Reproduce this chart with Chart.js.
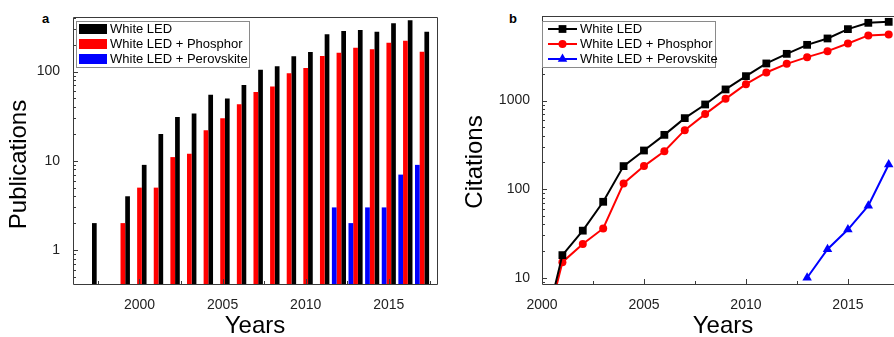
<!DOCTYPE html>
<html>
<head>
<meta charset="utf-8">
<script src="https://cdn.jsdelivr.net/npm/chart.js@4.4.1/dist/chart.umd.min.js"></script>
<style>
  html, body { margin: 0; padding: 0; background: #fff; overflow: hidden; }
  body { width: 894px; height: 337px; position: relative; font-family: "Liberation Sans", Arial, sans-serif; }
  .panel { position: absolute; top: 0; height: 337px; }
  #boxA { left: 0; width: 447px; }
  #boxB { left: 440px; width: 470px; }
  .tag { position: absolute; top: 12px; font-weight: bold; font-size: 13px; line-height: 13px; }
</style>
</head>
<body>
<div class="tag" style="left:42px">a</div>
<div class="tag" style="left:509px">b</div>
<div class="panel" id="boxA"><canvas id="pubChart"></canvas></div>
<div class="panel" id="boxB"><canvas id="citChart"></canvas></div>
<script>
// panel a - publications per year
const pubYears = [1997, 1998, 1999, 2000, 2001, 2002, 2003, 2004, 2005, 2006, 2007,
                  2008, 2009, 2010, 2011, 2012, 2013, 2014, 2015, 2016, 2017];
const pubWhiteLed = [2, null, 4, 9, 20, 31, 34, 55, 50, 71, 105, 115, 149, 166, 262, 285, 293, 280, 348, 376, 280];
const pubPhosphor = [null, null, 2, 5, 5, 11, 12, 22, 30, 43, 59, 68, 96, 110, 150, 163, 185, 178, 211, 222, 167];
const pubPerovskite = [null, null, null, null, null, null, null, null, null, null, null,
                       null, null, null, null, 3, 2, 3, 3, 7, 9];
const pubTickLabels = [1, 10, 100];

// panel b - citations per year
const citYears = [2000, 2001, 2002, 2003, 2004, 2005, 2006, 2007, 2008,
                  2009, 2010, 2011, 2012, 2013, 2014, 2015, 2016, 2017];
const citWhiteLed = [2, 18, 34, 72, 182, 273, 410, 633, 903, 1335, 1885, 2622, 3366, 4253, 5020, 6397, 7535, 7730];
const citPhosphor = [1.8, 15, 24, 36, 116, 182, 268, 463, 703, 1045, 1531, 2075, 2594, 3090, 3612, 4410, 5430, 5570];
const citPerovskite = [null, null, null, null, null, null, null, null, null,
                       null, null, null, null, 10, 21, 35, 65, 190];
const citTickLabels = [10, 100, 1000];

const yearLabels = [2000, 2005, 2010, 2015];

const FONT = '"Liberation Sans", Arial, sans-serif';

let toPoints = (xs, ys) => xs.map((x, i) => ({x: x, y: ys[i]})).filter(p => p.y !== null);

let fixedTicks = list => s => { s.ticks = list.map(v => ({value: v})); };

// box around the plot and short inward ticks
const axisFrame = {
    id: 'axisFrame',
    afterDatasetsDraw(chart) {
        const ctx = chart.ctx;
        const a = chart.chartArea;
        const x = chart.scales.x, y = chart.scales.y;
        ctx.save();
        ctx.strokeStyle = '#3a3a3a';
        ctx.lineWidth = 1;
        ctx.beginPath();
        ctx.rect(Math.round(a.left) + 0.5, Math.round(a.top) + 0.5,
                 Math.round(a.right - a.left), Math.round(a.bottom - a.top));
        const lo = Math.floor(Math.log10(y.min)), hi = Math.ceil(Math.log10(y.max));
        for (let d = lo; d <= hi; d++) {
            for (let k = 1; k <= 9; k++) {
                const v = k * Math.pow(10, d);
                if (v < y.min || v > y.max) continue;
                const py = Math.round(y.getPixelForValue(v)) + 0.5;
                ctx.moveTo(a.left, py);
                ctx.lineTo(a.left + (k === 1 ? 5 : 3), py);
            }
        }
        for (let v = Math.ceil(x.min / 2.5) * 2.5; v <= x.max; v += 2.5) {
            const px = Math.round(x.getPixelForValue(v)) + 0.5;
            ctx.moveTo(px, a.bottom);
            ctx.lineTo(px, a.bottom - (v % 5 === 0 ? 5 : 3));
        }
        ctx.stroke();
        ctx.restore();
    }
};

// vertical axis title, set a little below the middle of the plot like the figure
const sideTitle = {
    id: 'sideTitle',
    afterDraw(chart, args, opts) {
        const ctx = chart.ctx;
        const a = chart.chartArea;
        ctx.save();
        ctx.translate(opts.x, (a.top + a.bottom) / 2 + opts.dy);
        ctx.rotate(-Math.PI / 2);
        ctx.font = '24px ' + FONT;
        ctx.fillStyle = '#000';
        ctx.textAlign = 'center';
        ctx.textBaseline = 'middle';
        ctx.fillText(opts.text, 0, 0);
        ctx.restore();
    }
};

// legend drawn inside the plot, as in the figure
const boxLegend = {
    id: 'boxLegend',
    afterDatasetsDraw(chart, args, opts) {
        const ctx = chart.ctx;
        ctx.save();
        ctx.fillStyle = '#fff';
        ctx.fillRect(opts.x, opts.y, opts.w, opts.h);
        ctx.strokeStyle = '#8a8a8a';
        ctx.lineWidth = 1;
        ctx.strokeRect(opts.x + 0.5, opts.y + 0.5, opts.w, opts.h);
        ctx.font = '13px ' + FONT;
        ctx.textBaseline = 'middle';
        opts.order.forEach((di, row) => {
            const ds = chart.data.datasets[di];
            const cy = opts.y + opts.firstRow + row * opts.rowGap;
            const x0 = opts.x + 3;
            if (opts.kind === 'bar') {
                ctx.fillStyle = ds.backgroundColor;
                ctx.fillRect(x0, cy - 5, 28, 10);
            } else {
                ctx.strokeStyle = ds.borderColor;
                ctx.lineWidth = 2;
                ctx.beginPath();
                ctx.moveTo(x0 + 3, cy);
                ctx.lineTo(x0 + 32, cy);
                ctx.stroke();
                ctx.fillStyle = ds.pointBackgroundColor;
                Chart.helpers.drawPoint(ctx, {
                    pointStyle: ds.pointStyle, radius: ds.pointRadius, rotation: 0, borderWidth: 0
                }, x0 + 17.5, cy);
            }
            ctx.fillStyle = '#000';
            ctx.fillText(ds.label, opts.textX, cy);
        });
        ctx.restore();
    }
};

let tickFont = {family: FONT, size: 14};
let titleFont = {family: FONT, size: 24, lineHeight: 0.9};

let plainLabel = v => String(Math.round(v));

new Chart(document.getElementById('pubChart'), {
    type: 'bar',
    data: {
        datasets: [
            {label: 'White LED + Perovskite', data: toPoints(pubYears, pubPerovskite), backgroundColor: '#0000ff'},
            {label: 'White LED + Phosphor', data: toPoints(pubYears, pubPhosphor), backgroundColor: '#ff0000'},
            {label: 'White LED', data: toPoints(pubYears, pubWhiteLed), backgroundColor: '#000000'}
        ]
    },
    options: {
        responsive: true,
        maintainAspectRatio: false,
        animation: false,
        layout: {padding: {top: 17, right: 10, left: 0, bottom: 0}},
        datasets: {bar: {categoryPercentage: 0.85, barPercentage: 1.0, borderWidth: 0}},
        plugins: {
            legend: {display: false},
            tooltip: {enabled: false},
            boxLegend: {kind: 'bar', x: 76, y: 21, w: 173, h: 46, firstRow: 8, rowGap: 15, textX: 110, order: [2, 1, 0]},
            sideTitle: {text: 'Publications', x: 19, dy: 14}
        },
        scales: {
            x: {
                type: 'linear', min: 1996, max: 2017.9, offset: false,
                grid: {display: false, offset: false}, border: {display: false},
                afterBuildTicks: fixedTicks(yearLabels),
                ticks: {autoSkip: false, maxRotation: 0, padding: 5, font: tickFont, color: '#222', callback: plainLabel},
                title: {display: true, text: 'Years', font: titleFont, color: '#000', padding: {top: 0, bottom: 0}},
                afterFit: s => { s.height = 53; }
            },
            y: {
                type: 'logarithmic', min: 0.415, max: 410,
                grid: {display: false}, border: {display: false},
                afterBuildTicks: fixedTicks(pubTickLabels),
                ticks: {autoSkip: false, padding: 5, font: tickFont, color: '#222', callback: plainLabel},
                afterFit: s => { s.width = 73; }
            }
        }
    },
    plugins: [axisFrame, boxLegend, sideTitle]
});

new Chart(document.getElementById('citChart'), {
    type: 'line',
    data: {
        datasets: [
            {label: 'White LED', data: toPoints(citYears, citWhiteLed), borderColor: '#000000',
             pointBackgroundColor: '#000000', pointBorderColor: '#000000', pointStyle: 'rect', pointRadius: 5.5},
            {label: 'White LED + Phosphor', data: toPoints(citYears, citPhosphor), borderColor: '#ff0000',
             pointBackgroundColor: '#ff0000', pointBorderColor: '#ff0000', pointStyle: 'circle', pointRadius: 4},
            {label: 'White LED + Perovskite', data: toPoints(citYears, citPerovskite), borderColor: '#0000ff',
             pointBackgroundColor: '#0000ff', pointBorderColor: '#0000ff', pointStyle: 'triangle', pointRadius: 5.5}
        ]
    },
    options: {
        responsive: true,
        maintainAspectRatio: false,
        animation: false,
        layout: {padding: {top: 16, right: 6, left: 0, bottom: 0}},
        datasets: {line: {borderWidth: 2, tension: 0, pointBorderWidth: 0}},
        plugins: {
            legend: {display: false},
            tooltip: {enabled: false},
            boxLegend: {kind: 'line', x: 102, y: 21, w: 173, h: 46, firstRow: 8, rowGap: 15, textX: 140, order: [0, 1, 2]},
            sideTitle: {text: 'Citations', x: 35, dy: 12}
        },
        scales: {
            x: {
                type: 'linear', min: 2000, max: 2017.75,
                grid: {display: false}, border: {display: false},
                afterBuildTicks: fixedTicks(yearLabels),
                ticks: {autoSkip: false, maxRotation: 0, padding: 5, font: tickFont, color: '#222', callback: plainLabel},
                title: {display: true, text: 'Years', font: titleFont, color: '#000', padding: {top: 0, bottom: 0}},
                afterFit: s => { s.height = 53; }
            },
            y: {
                type: 'logarithmic', min: 8.5, max: 9000,
                grid: {display: false}, border: {display: false},
                afterBuildTicks: fixedTicks(citTickLabels),
                ticks: {autoSkip: false, padding: 4, font: tickFont, color: '#222', callback: plainLabel},
                afterFit: s => { s.width = 102; }
            }
        }
    },
    plugins: [axisFrame, boxLegend, sideTitle]
});
</script>
</body>
</html>
